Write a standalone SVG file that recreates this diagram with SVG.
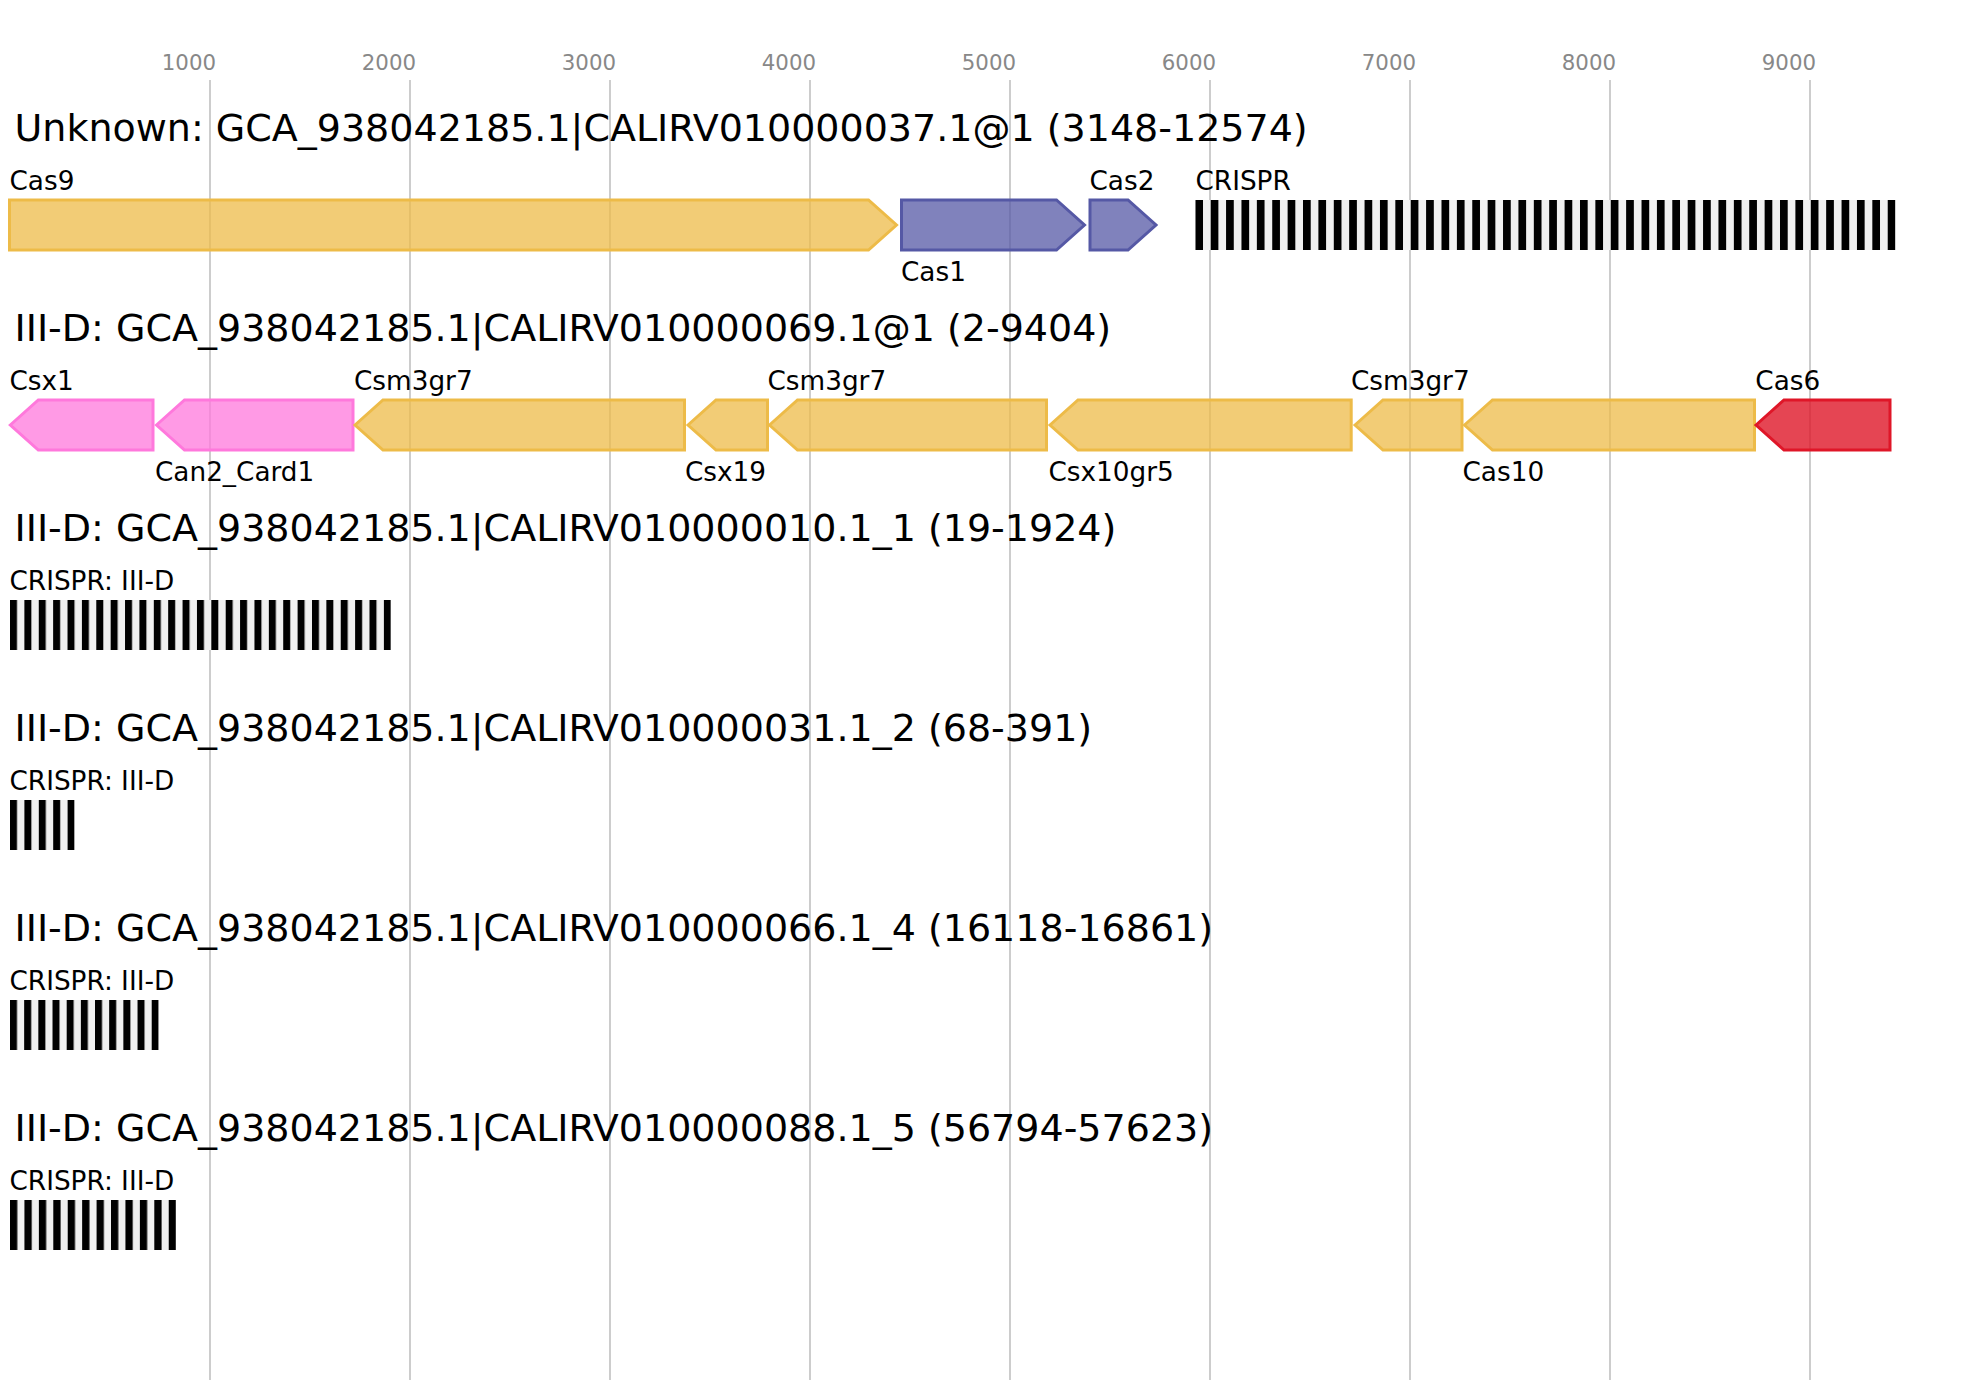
<svg xmlns="http://www.w3.org/2000/svg" width="1985" height="1400" viewBox="0 0 1985 1400">
<style>
text{font-family:"DejaVu Sans","Liberation Sans",sans-serif;fill:#000}
.tick{font-size:21.3px;fill:#888;text-anchor:end}
.title{font-size:38px}
.lbl{font-size:26.3px}
.grid{stroke:#c0c0c0;stroke-width:1.6}
.gene{stroke-width:3;stroke-linejoin:miter}
.orange{fill:#EDBB48;fill-opacity:0.75;stroke:#EDBB48}
.purple{fill:#5558A5;fill-opacity:0.75;stroke:#5558A5}
.pink{fill:#FF78DC;fill-opacity:0.75;stroke:#FF78DC}
.red{fill:#DF1628;fill-opacity:0.8;stroke:#DF1628}
.bg{fill:#f0f0f0}
</style>
<defs>
<pattern id="p1" patternUnits="userSpaceOnUse" x="1195.3" y="0" width="15.387" height="50"><rect x="0" y="0" width="7.7" height="50" fill="#000"/></pattern>
<pattern id="p3" patternUnits="userSpaceOnUse" x="10" y="0" width="14.38" height="50"><rect x="0" y="0" width="7" height="50" fill="#000"/></pattern>
<pattern id="p4" patternUnits="userSpaceOnUse" x="10" y="0" width="14.4" height="50"><rect x="0" y="0" width="7" height="50" fill="#000"/></pattern>
<pattern id="p5" patternUnits="userSpaceOnUse" x="10" y="0" width="14.17" height="50"><rect x="0" y="0" width="7" height="50" fill="#000"/></pattern>
<pattern id="p6" patternUnits="userSpaceOnUse" x="10" y="0" width="14.43" height="50"><rect x="0" y="0" width="7.3" height="50" fill="#000"/></pattern>
</defs>
<rect width="1985" height="1400" fill="#fff"/>
<g id="axis">
<line class="grid" x1="210" y1="80" x2="210" y2="1380"/>
<line class="grid" x1="410" y1="80" x2="410" y2="1380"/>
<line class="grid" x1="610" y1="80" x2="610" y2="1380"/>
<line class="grid" x1="810" y1="80" x2="810" y2="1380"/>
<line class="grid" x1="1010" y1="80" x2="1010" y2="1380"/>
<line class="grid" x1="1210" y1="80" x2="1210" y2="1380"/>
<line class="grid" x1="1410" y1="80" x2="1410" y2="1380"/>
<line class="grid" x1="1610" y1="80" x2="1610" y2="1380"/>
<line class="grid" x1="1810" y1="80" x2="1810" y2="1380"/>
<text class="tick" x="216" y="70">1000</text>
<text class="tick" x="416" y="70">2000</text>
<text class="tick" x="616" y="70">3000</text>
<text class="tick" x="816" y="70">4000</text>
<text class="tick" x="1016" y="70">5000</text>
<text class="tick" x="1216" y="70">6000</text>
<text class="tick" x="1416" y="70">7000</text>
<text class="tick" x="1616" y="70">8000</text>
<text class="tick" x="1816" y="70">9000</text>
</g>
<g id="track1">
<text class="title" x="14.5" y="141">Unknown: GCA_938042185.1|CALIRV010000037.1@1 (3148-12574)</text>
<g id="cas9"><path class="gene orange" d="M9.5,200 H868.5 L896.5,225 L868.5,250 H9.5 Z"/><text class="lbl" x="9.5" y="189.5">Cas9</text></g>
<g id="cas1"><path class="gene purple" d="M901.5,200 H1056.5 L1084.5,225 L1056.5,250 H901.5 Z"/><text class="lbl" x="901" y="280.5">Cas1</text></g>
<g id="cas2"><path class="gene purple" d="M1090,200 H1128 L1156,225 L1128,250 H1090 Z"/><text class="lbl" x="1089.5" y="189.5">Cas2</text></g>
<g id="crispr1"><rect class="bg" x="1195.3" y="200" width="700.1" height="50"/><rect x="1195.3" y="200" width="700.1" height="50" fill="url(#p1)"/><text class="lbl" x="1195.5" y="189.5">CRISPR</text></g>
</g>
<g id="track2">
<text class="title" x="14.5" y="341">III-D: GCA_938042185.1|CALIRV010000069.1@1 (2-9404)</text>
<g id="csx1"><path class="gene pink" d="M10.3,425 L38.3,400 H153 V450 H38.3 Z"/><text class="lbl" x="9.5" y="389.5">Csx1</text></g>
<g id="can2"><path class="gene pink" d="M156.5,425 L184.5,400 H353 V450 H184.5 Z"/><text class="lbl" x="155" y="480.5">Can2_Card1</text></g>
<g id="csm3a"><path class="gene orange" d="M355,425 L383,400 H684.5 V450 H383 Z"/><text class="lbl" x="354" y="389.5">Csm3gr7</text></g>
<g id="csx19"><path class="gene orange" d="M688,425 L716,400 H767.5 V450 H716 Z"/><text class="lbl" x="685" y="480.5">Csx19</text></g>
<g id="csm3b"><path class="gene orange" d="M769.5,425 L797.5,400 H1046.5 V450 H797.5 Z"/><text class="lbl" x="767.5" y="389.5">Csm3gr7</text></g>
<g id="csx10"><path class="gene orange" d="M1050,425 L1078,400 H1351.2 V450 H1078 Z"/><text class="lbl" x="1048.5" y="480.5">Csx10gr5</text></g>
<g id="csm3c"><path class="gene orange" d="M1355,425 L1383,400 H1462 V450 H1383 Z"/><text class="lbl" x="1351" y="389.5">Csm3gr7</text></g>
<g id="cas10"><path class="gene orange" d="M1464.5,425 L1492.5,400 H1754.5 V450 H1492.5 Z"/><text class="lbl" x="1462.5" y="480.5">Cas10</text></g>
<g id="cas6"><path class="gene red" d="M1756,425 L1784,400 H1890 V450 H1784 Z"/><text class="lbl" x="1755.3" y="389.5">Cas6</text></g>
</g>
<g id="track3">
<text class="title" x="14.5" y="541">III-D: GCA_938042185.1|CALIRV010000010.1_1 (19-1924)</text>
<g id="crispr3"><rect class="bg" x="10" y="600" width="380.9" height="50"/><rect x="10" y="600" width="380.9" height="50" fill="url(#p3)"/><text class="lbl" x="9.5" y="589.5">CRISPR: III-D</text></g>
</g>
<g id="track4">
<text class="title" x="14.5" y="741">III-D: GCA_938042185.1|CALIRV010000031.1_2 (68-391)</text>
<g id="crispr4"><rect class="bg" x="10" y="800" width="64.6" height="50"/><rect x="10" y="800" width="64.6" height="50" fill="url(#p4)"/><text class="lbl" x="9.5" y="789.5">CRISPR: III-D</text></g>
</g>
<g id="track5">
<text class="title" x="14.5" y="941">III-D: GCA_938042185.1|CALIRV010000066.1_4 (16118-16861)</text>
<g id="crispr5"><rect class="bg" x="10" y="1000" width="148.7" height="50"/><rect x="10" y="1000" width="148.7" height="50" fill="url(#p5)"/><text class="lbl" x="9.5" y="989.5">CRISPR: III-D</text></g>
</g>
<g id="track6">
<text class="title" x="14.5" y="1141">III-D: GCA_938042185.1|CALIRV010000088.1_5 (56794-57623)</text>
<g id="crispr6"><rect class="bg" x="10" y="1200" width="166" height="50"/><rect x="10" y="1200" width="166" height="50" fill="url(#p6)"/><text class="lbl" x="9.5" y="1189.5">CRISPR: III-D</text></g>
</g>
</svg>
